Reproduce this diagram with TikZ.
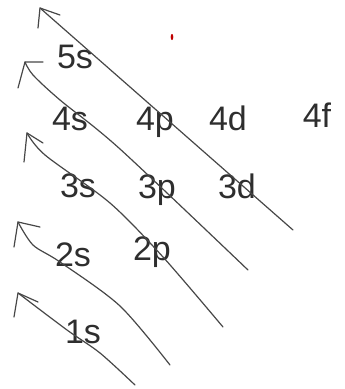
\documentclass[tikz,border=0pt]{standalone}
\usepackage{fontspec}
\setmainfont{Liberation Sans}
\begin{document}
\begin{tikzpicture}[x=1pt,y=-1pt,
  ln/.style={draw=black!72, line width=1.2pt, line cap=round, line join=round},
  lab/.style={anchor=base, inner sep=0pt, font=\fontsize{34}{36}\selectfont, text=black!82}]
\useasboundingbox (0,0) rectangle (345,389);
% labels
\node[lab] (s5) at (75,68) {5s};
\node[lab] (s4) at (70,130) {4s};
\node[lab] (p4) at (155,130) {4p};
\node[lab] (d4) at (228,130) {4d};
\node[lab] (f4) at (317,127) {4f};
\node[lab] (s3) at (78,197) {3s};
\node[lab] (p3) at (157,198) {3p};
\node[lab] (d3) at (237,198) {3d};
\node[lab] (s2) at (73,266) {2s};
\node[lab] (p2) at (152,260) {2p};
\node[lab] (s1) at (83,343) {1s};
% line 1
\coordinate (e1) at (135,385); \coordinate (t1) at (18,293);
\coordinate (l1) at (14,317); \coordinate (r1) at (38,302);
\draw[ln] plot[smooth, tension=0.5] coordinates {(e1) (100,353) (67,330) (t1)};
\draw[ln] (l1) -- (t1) -- (r1);
% line 2
\coordinate (e2) at (170,365); \coordinate (t2) at (18,222);
\coordinate (l2) at (14,247); \coordinate (r2) at (40,227);
\draw[ln] plot[smooth, tension=0.5] coordinates {(e2) (120,306) (60,262) (33,245) (t2)};
\draw[ln] (l2) -- (t2) -- (r2);
% line 3
\coordinate (e3) at (223,327); \coordinate (t3) at (27,133);
\coordinate (l3) at (24,162); \coordinate (r3) at (43,143);
\draw[ln] plot[smooth, tension=0.5] coordinates {(e3) (163,257) (110,203) (45,155) (t3)};
\draw[ln] (l3) -- (t3) -- (r3);
% line 4
\coordinate (e4) at (248,270); \coordinate (t4) at (25,62);
\coordinate (l4) at (18,88); \coordinate (r4) at (43,62);
\draw[ln] plot[smooth, tension=0.5] coordinates {(e4) (120,149) (60,100) (33,75) (t4)};
\draw[ln] (l4) -- (t4) -- (r4);
% line 5
\coordinate (e5) at (293,230); \coordinate (t5) at (40,8);
\coordinate (l5) at (38,28); \coordinate (r5) at (60,15);
\draw[ln] (e5) -- (t5);
\draw[ln] (l5) -- (t5) -- (r5);
% red mark
\fill[red!75!black] (172,37) ellipse (1.3 and 3);
\end{tikzpicture}
\end{document}
